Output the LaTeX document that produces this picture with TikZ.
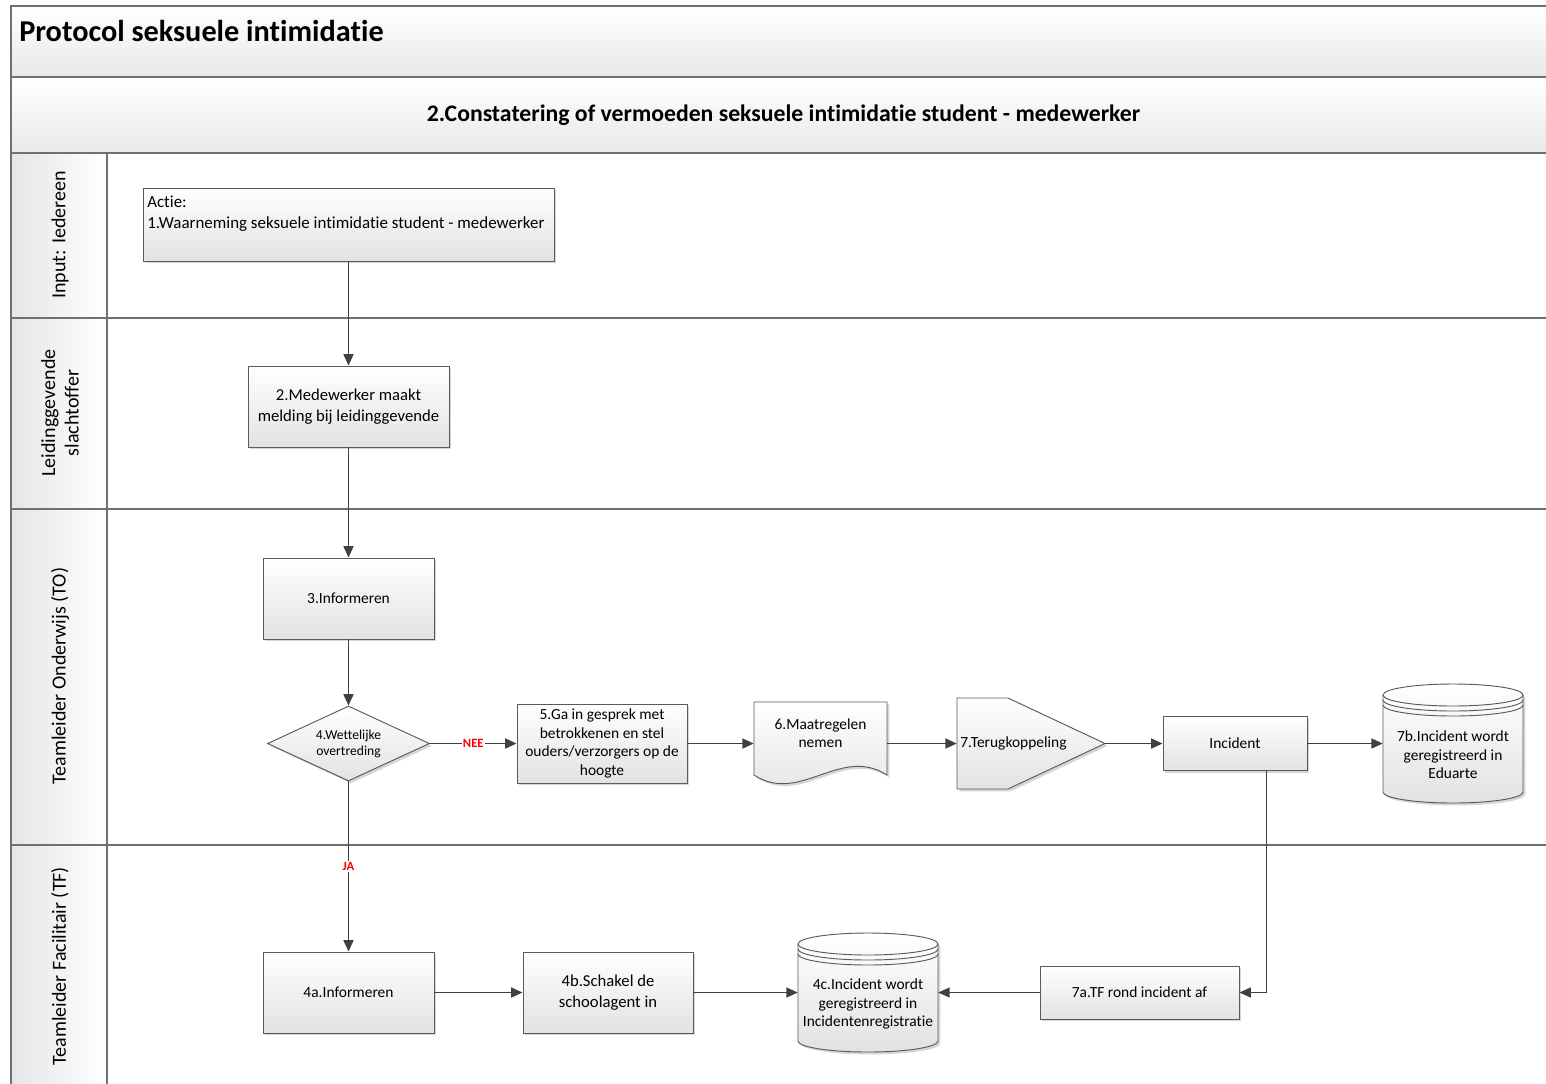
\documentclass[tikz,border=0pt]{standalone}
\usepackage{fontspec}
\setmainfont{Carlito}[Ligatures={NoCommon,NoRare,NoContextual}]
\usetikzlibrary{shapes.geometric,arrows.meta,shadows}
\definecolor{linec}{HTML}{404040}
\definecolor{borderc}{HTML}{5A5A5A}
\definecolor{fillb}{HTML}{E2E2E2}
\definecolor{framec}{HTML}{707070}
\tikzset{
 shad/.style={drop shadow={shadow xshift=1.8pt, shadow yshift=-1.8pt, fill=black!40, opacity=0.4}},
 procbox/.style={rectangle, draw=borderc, line width=0.7pt, top color=white, bottom color=fillb, shad, align=center, inner sep=2pt, font=\fontsize{11.6}{13.8}\selectfont},
 shapefill/.style={draw=borderc, line width=0.7pt, top color=white, bottom color=fillb, shad},
 thinline/.style={draw=borderc, line width=0.7pt},
 ghost/.style={rectangle, inner sep=0pt, align=center, font=\fontsize{11.6}{13.8}\selectfont},
 conn/.style={draw=linec, line width=1.1pt, -{Triangle[length=8.5pt,width=7.5pt]}},
 lanelbl/.style={rotate=90, align=center, inner sep=0pt, font=\fontsize{15}{17.5}\selectfont},
 yesno/.style={text=red, font=\bfseries\fontsize{9.5}{11}\selectfont, fill=white, inner sep=1pt},
 laneline/.style={draw=framec, line width=0.8pt},
}
\newcommand{\dbcyl}[2]{%
 \path[shapefill] ({#1-70},{#2-48.5}) -- ({#1-70},{#2+48.5}) arc[start angle=180,end angle=360,x radius=52.5pt,y radius=8.25pt] -- ({#1+70},{#2-48.5}) arc[start angle=0,end angle=180,x radius=52.5pt,y radius=8.25pt] -- cycle;
 \draw[thinline] ({#1-70},{#2-48.5}) arc[start angle=180,end angle=360,x radius=52.5pt,y radius=8.25pt];
 \draw[thinline] ({#1-70},{#2-43.5}) arc[start angle=180,end angle=360,x radius=52.5pt,y radius=8.25pt];
 \draw[thinline] ({#1-70},{#2-38.5}) arc[start angle=180,end angle=360,x radius=52.5pt,y radius=8.25pt];
}
\begin{document}
\begin{tikzpicture}[x=0.75pt,y=-0.75pt]
\useasboundingbox (0,0) rectangle (1546,1083);
\clip (0,0) rectangle (1546,1083);
\fill[white] (0,0) rectangle (1546,1083);
% header bands
\path[top color=white, bottom color=black!9, draw=framec, line width=0.8pt] (11,6) rectangle (1560,77);
\path[top color=white, bottom color=black!9, draw=framec, line width=0.8pt] (11,77) rectangle (1560,153);
\node[anchor=west, inner sep=0pt, font=\bfseries\fontsize{22.7}{27}\selectfont] (title) at (19,31) {Protocol seksuele intimidatie};
\node[inner sep=0pt, font=\bfseries\fontsize{17.8}{21}\selectfont] (subtitle) at (783.5,115) {2.Constatering of vermoeden seksuele intimidatie student - medewerker};
% lane label cells
\path[left color=black!10, right color=white] (11,153) rectangle (107,318);
\path[left color=black!10, right color=white] (11,318) rectangle (107,509);
\path[left color=black!10, right color=white] (11,509) rectangle (107,845);
\path[left color=black!10, right color=white] (11,845) rectangle (107,1090);
\draw[laneline] (11,153) -- (1560,153);
\draw[laneline] (11,318) -- (1560,318);
\draw[laneline] (11,509) -- (1560,509);
\draw[laneline] (11,845) -- (1560,845);
\draw[laneline] (11,6) -- (11,1090);
\draw[laneline] (107,153) -- (107,1090);
\node[lanelbl] (l1) at (60,235) {Input: Iedereen};
\node[lanelbl] (l2) at (60,413) {Leidinggevende\\slachtoffer};
\node[lanelbl] (l3) at (60,676) {Teamleider Onderwijs (TO)};
\node[lanelbl] (l4) at (60,966) {Teamleider Facilitair (TF)};
% nodes
\node[procbox, minimum width=308.25pt, minimum height=54.75pt] (n1) at (348.5,224.5) {};
\node[ghost, anchor=north west, align=left, font=\fontsize{12.7}{15.75}\selectfont] (n1t) at (147,196) {Actie:\\1.Waarneming seksuele intimidatie student - medewerker};
\node[procbox, minimum width=150.75pt, minimum height=60.75pt, font=\fontsize{12.5}{15.75}\selectfont] (n2) at (348.5,406.5) {2.Medewerker maakt\\melding bij leidinggevende};
\node[procbox, minimum width=128.25pt, minimum height=60.75pt] (n3) at (348.5,598.5) {3.Informeren};
\node[diamond, aspect=2.16, draw=borderc, line width=0.7pt, top color=white, bottom color=fillb, shad, minimum width=121.5pt, minimum height=56.25pt, inner sep=0pt, align=center, font=\fontsize{10.2}{12}\selectfont] (n4) at (348.5,743.5) {4.Wettelijke\\overtreding};
\node[procbox, minimum width=127.5pt, minimum height=59.25pt] (n5) at (602,743.5) {5.Ga in gesprek met\\betrokkenen en stel\\ouders/verzorgers op de\\hoogte};
% document shape 6
\path[shapefill] (754,702) -- (887,702) -- (887,775) .. controls (840,745) and (800,805) .. (754,775) -- cycle;
\node[ghost, minimum width=99.75pt, minimum height=62.25pt] (n6) at (820.5,743.5) {};
\node[ghost] (n6t) at (820.5,733) {6.Maatregelen\\nemen};
% off-page shape 7
\path[shapefill] (957,698) -- (1008,698) -- (1105,743.5) -- (1008,789) -- (957,789) -- cycle;
\node[ghost, minimum width=111pt, minimum height=68.25pt] (n7) at (1031,743.5) {};
\node[ghost, anchor=west] (n7t) at (960,743.5) {7.Terugkoppeling};
\node[procbox, minimum width=108pt, minimum height=40.5pt] (ninc) at (1235,743.5) {Incident};
% cylinder 7b
\dbcyl{1453}{743.5}
\node[ghost, minimum width=105pt, minimum height=89.25pt] (n7b) at (1453,743.5) {};
\node[ghost] (n7bt) at (1453,755) {7b.Incident wordt\\geregistreerd in\\Eduarte};
% lower lane
\node[procbox, minimum width=128.25pt, minimum height=60.75pt] (n4a) at (348.5,992.5) {4a.Informeren};
\node[procbox, minimum width=127.5pt, minimum height=60.75pt, font=\fontsize{12.5}{15.75}\selectfont] (n4b) at (608,992.5) {4b.Schakel de\\schoolagent in};
\dbcyl{868}{992.5}
\node[ghost, minimum width=105pt, minimum height=89.25pt] (n4c) at (868,992.5) {};
\node[ghost] (n4ct) at (868,1004) {4c.Incident wordt\\geregistreerd in\\Incidentenregistratie};
\node[procbox, minimum width=149.25pt, minimum height=39.75pt] (n7a) at (1139.5,992.5) {7a.TF rond incident af};
% connectors
\draw[conn] (n1.south) -- (n2.north);
\draw[conn] (n2.south) -- (n3.north);
\draw[conn] (n3.south) -- (n4.north);
\draw[conn] (n4.east) -- node[yesno] (nee) {NEE} (n5.west);
\draw[conn] (n4.south) -- node[yesno] (ja) {JA} (n4a.north);
\draw[conn] (n5.east) -- (n6.west);
\draw[conn] (n6.east) -- (n7.west);
\draw[conn] (n7.east) -- (ninc.west);
\draw[conn] (ninc.east) -- (n7b.west);
\draw[conn] ([xshift=-30.75pt]ninc.south east) |- (n7a.east);
\draw[conn] (n7a.west) -- (n4c.east);
\draw[conn] (n4a.east) -- (n4b.west);
\draw[conn] (n4b.east) -- (n4c.west);
\end{tikzpicture}
\end{document}
